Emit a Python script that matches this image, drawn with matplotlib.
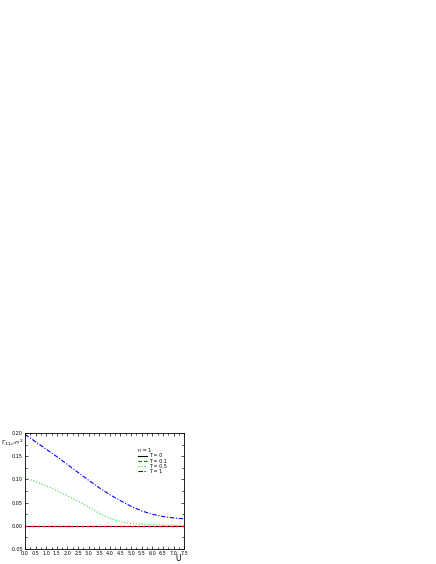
import matplotlib.pyplot as plt
import numpy as np
from matplotlib.ticker import MultipleLocator

# data
U = [0.0, 0.5, 1.0, 1.5, 2.0, 2.5, 3.0, 3.5, 4.0, 4.5, 5.0, 5.5, 6.0, 6.5, 7.0, 7.5]
g_T0 = [0.0] * len(U)
g_T01 = [0.0] * len(U)
g_T05 = [0.103, 0.095, 0.086, 0.076, 0.065, 0.053, 0.040, 0.027, 0.016, 0.009,
         0.005, 0.0035, 0.0025, 0.0015, 0.001, 0.001]
g_T1 = [0.197, 0.181, 0.165, 0.149, 0.132, 0.115, 0.098, 0.082, 0.067, 0.054,
        0.042, 0.032, 0.025, 0.020, 0.017, 0.015]

fig = plt.figure(figsize=(4.36, 5.64), dpi=100)
ax = fig.add_axes([0.0573, 0.0266, 0.365, 0.2057])

ax.plot(U, g_T0, color='black', lw=0.8, label='T = 0')
ax.plot(U, g_T01, color='red', lw=0.8, ls='--', dashes=(3, 2), label='T = 0.1')
ax.plot(U, g_T05, color='#33dd33', lw=0.8, ls=':', label='T = 0.5')
ax.plot(U, g_T1, color='blue', lw=0.8, ls='-.', dashes=(4, 1.5, 1, 1.5), label='T = 1')

ax.set_xlim(0, 7.5)
ax.set_ylim(-0.05, 0.20)
ax.xaxis.set_major_locator(MultipleLocator(0.5))
ax.xaxis.set_minor_locator(MultipleLocator(0.25))
ax.yaxis.set_major_locator(MultipleLocator(0.05))
ax.yaxis.set_minor_locator(MultipleLocator(0.025))
ax.xaxis.set_major_formatter(plt.FuncFormatter(lambda v, p: f"{v:.1f}"))
ax.yaxis.set_major_formatter(plt.FuncFormatter(lambda v, p: f"{v:.2f}"))
ax.tick_params(which='both', direction='in', top=True, right=True, labelsize=3.5, pad=1.5, width=0.5)
ax.tick_params(which='major', length=2.5)
ax.tick_params(which='minor', length=1.3)
for s in ax.spines.values():
    s.set_linewidth(0.6)

ax.set_xlabel('U', fontsize=5.5, labelpad=0)
ax.xaxis.set_label_coords(0.965, -0.045)
fig.text(0.003, 0.212, r'$\Gamma_{11c}$-$n^2$', fontsize=4.5)

leg = ax.legend(title='n = 1', loc='upper left', bbox_to_anchor=(0.71, 0.87),
                fontsize=3.5, title_fontsize=3.5, frameon=False,
                handlelength=1.9, handletextpad=0.4, labelspacing=0.05,
                borderpad=0, borderaxespad=0)
leg._legend_box.align = 'left'

plt.savefig('out.png', dpi=100)
